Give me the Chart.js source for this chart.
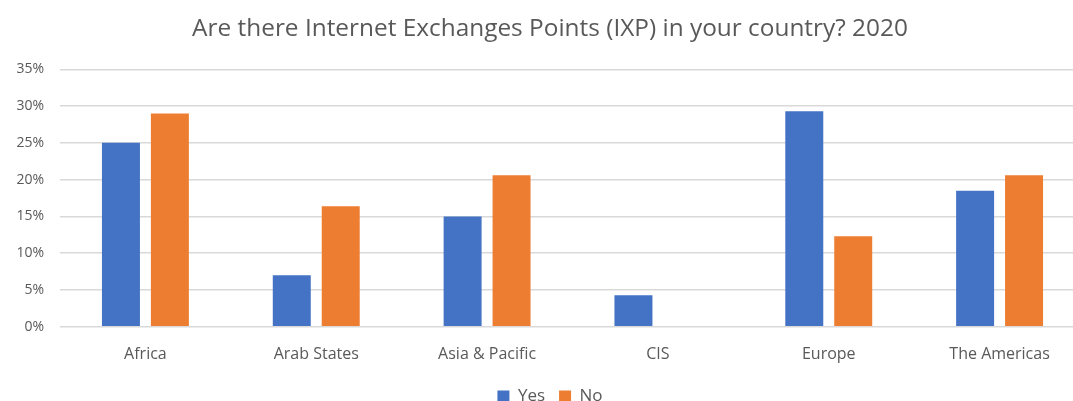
<!DOCTYPE html>
<html>
<head>
<meta charset="utf-8">
<script src="https://cdn.jsdelivr.net/npm/chart.js@4"></script>
<style>
  html, body { margin: 0; padding: 0; background: #fff; overflow: hidden; }
  #wrap { width: 1112px; height: 415px; }
</style>
</head>
<body>
<div id="wrap"><canvas id="c"></canvas></div>
<script>
// IXP survey 2020 — share of answers per region
const categories = ['Africa', 'Arab States', 'Asia & Pacific', 'CIS', 'Europe', 'The Americas'];
const yesValues = [25.0, 7.0, 15.0, 4.3, 29.3, 18.5];
const noValues  = [29.0, 16.4, 20.6, 0, 12.3, 20.6];
const yTicks = [0, 5, 10, 15, 20, 25, 30, 35];

const grey = '#595959';
const font = 'Open Sans';

new Chart(document.getElementById('c'), {
  type: 'bar',
  data: {
    labels: categories,
    datasets: [
      { label: 'Yes', data: yesValues, backgroundColor: '#4472C4' },
      { label: 'No', data: noValues, backgroundColor: '#ED7D31' },
    ],
  },
  options: {
    responsive: true,
    maintainAspectRatio: false,
    animation: false,
    categoryPercentage: 0.573,
    barPercentage: 0.776,
    // some left padding to pull title/legend toward the Excel centre
    layout: { padding: { left: 15, right: 27, top: 0, bottom: 0 } },
    scales: {
      x: {
        grid: { display: false },
        border: { display: false },
        ticks: { color: grey, font: { family: font, size: 16 }, padding: 10 },
      },
      y: {
        min: 0,
        max: 35,
        afterFit: s => { s.width = 45; },
        afterBuildTicks: s => { s.ticks = yTicks.map(v => ({ value: v })); },
        grid: { color: '#d9d9d9', lineWidth: 1.5, drawTicks: false },
        border: { display: false },
        ticks: {
          color: grey,
          font: { family: font, size: 14 },
          padding: 16,
          callback: v => `${v}%`,
        },
      },
    },
    plugins: {
      title: {
        display: true,
        text: 'Are there Internet Exchanges Points (IXP) in your country? 2020',
        color: grey,
        font: { family: font, size: 24.4, weight: 'normal' },
        padding: { top: 14, bottom: 26 },
      },
      legend: {
        position: 'bottom',
        labels: {
          color: grey,
          boxWidth: 12,
          boxHeight: 12,
          padding: 14,
          font: { family: font, size: 17 },
        },
      },
      tooltip: { enabled: false },
    },
  },
});
</script>
</body>
</html>
